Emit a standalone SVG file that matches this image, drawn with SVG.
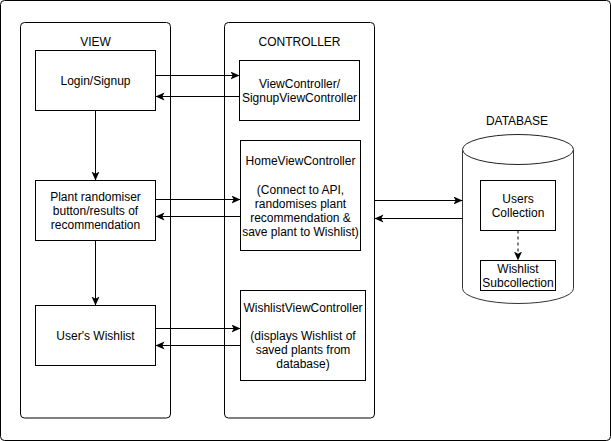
<svg xmlns="http://www.w3.org/2000/svg" width="611" height="441" viewBox="0 0 611 441">
<defs>
<marker id="arr" markerWidth="10" markerHeight="10" refX="9" refY="4" orient="auto" markerUnits="userSpaceOnUse">
<path d="M0,0 L9,4 L0,8 L2.2,4 Z" fill="#000"/>
</marker>
<style>
text{font-family:"Liberation Sans",Arial,Helvetica,sans-serif;font-size:12px;fill:#000;text-anchor:middle}
.box{fill:#fff;stroke:#000;stroke-width:1}
.cont{fill:#fff;stroke:#000;stroke-width:1}
.edge{fill:none;stroke:#000;stroke-width:1;marker-end:url(#arr)}
.dash{stroke-dasharray:3 3}
</style>
</defs>
<rect x="0.5" y="0.5" width="610" height="440" rx="4" fill="#fff" stroke="#000"/>
<g id="view">
<rect class="cont" x="20.5" y="22.5" width="150" height="395.5" rx="4"/>
<text x="95.5" y="45.5">VIEW</text>
</g>
<g id="controller">
<rect class="cont" x="224.5" y="22.5" width="150" height="395.5" rx="4"/>
<text x="299.5" y="45.5">CONTROLLER</text>
</g>
<g id="login">
<rect class="box" x="35.5" y="50.5" width="120" height="60"/>
<text x="95.5" y="85">Login/Signup</text>
</g>
<g id="plant">
<rect class="box" x="35.5" y="180.5" width="120" height="60"/>
<text x="95.5" y="200.5">Plant randomiser</text>
<text x="95.5" y="215">button/results of</text>
<text x="95.5" y="229.3">recommendation</text>
</g>
<g id="userwishlist">
<rect class="box" x="35.5" y="305.5" width="120" height="60"/>
<text x="95.5" y="340">User's Wishlist</text>
</g>
<g id="viewcontroller">
<rect class="box" x="239.5" y="60.5" width="120" height="60"/>
<text x="299.5" y="87.5">ViewController/</text>
<text x="299.5" y="102.3">SignupViewController</text>
</g>
<g id="homevc">
<rect class="box" x="240.5" y="140.5" width="120" height="110"/>
<text x="300.5" y="165">HomeViewController</text>
<text x="300.5" y="193.6">(Connect to API,</text>
<text x="300.5" y="207.6">randomises plant</text>
<text x="300.5" y="221.5">recommendation &amp;</text>
<text x="300.5" y="235.5">save plant to Wishlist)</text>
</g>
<g id="wishlistvc">
<rect class="box" x="240.5" y="290.5" width="125" height="90"/>
<text x="303" y="312">WishlistViewController</text>
<text x="303" y="340">(displays Wishlist of</text>
<text x="303" y="354.3">saved plants from</text>
<text x="303" y="368.3">database)</text>
</g>
<g id="database">
<text x="517" y="125.3">DATABASE</text>
<path d="M462.5,149.5 L462.5,288.5 A55.5,15 0 0 0 573.5,288.5 L573.5,149.5" fill="#fff" stroke="#333"/>
<ellipse cx="518" cy="149.5" rx="55.5" ry="15" fill="#fff" stroke="#222"/>
</g>
<g id="users">
<rect class="box" x="480.5" y="180.5" width="75" height="50"/>
<text x="518" y="202.6">Users</text>
<text x="518" y="217">Collection</text>
</g>
<g id="wishlistsub">
<rect class="box" x="480.5" y="260.5" width="75" height="30"/>
<text x="518" y="272.6">Wishlist</text>
<text x="518" y="287">Subcollection</text>
</g>
<g id="connectors">
<path class="edge" d="M155.5,75.5 L239.5,75.5"/>
<path class="edge" d="M239.5,96.5 L155.5,96.5"/>
<path class="edge" d="M95.5,110.5 L95.5,180.5"/>
<path class="edge" d="M155.5,199.5 L240.5,199.5"/>
<path class="edge" d="M240.5,216.5 L155.5,216.5"/>
<path class="edge" d="M95.5,240.5 L95.5,305.5"/>
<path class="edge" d="M155.5,328.5 L240.5,328.5"/>
<path class="edge" d="M240.5,345.5 L155.5,345.5"/>
<path class="edge" d="M374.5,200.5 L462.5,200.5"/>
<path class="edge" d="M462.5,218.5 L374.5,218.5"/>
<path class="edge dash" d="M518,230.5 L518,260.5"/>
</g>
</svg>
